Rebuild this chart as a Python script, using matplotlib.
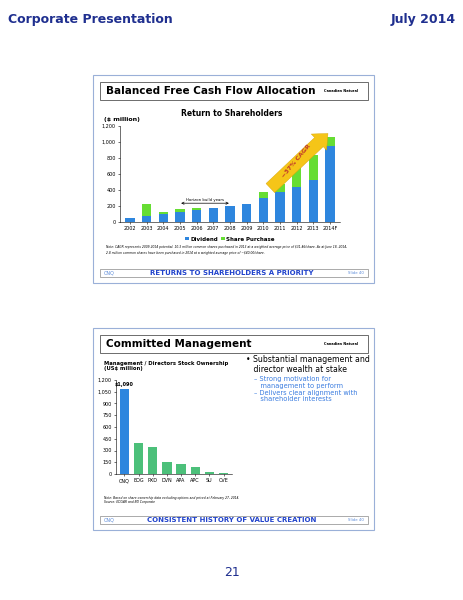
import matplotlib
matplotlib.use("Agg")
import matplotlib.pyplot as plt
from matplotlib.patches import Rectangle
import numpy as np

years = ["2002","2003","2004","2005","2006","2007","2008","2009","2010","2011","2012","2013","2014F"]
dividend = [55,75,95,120,150,175,205,220,300,375,440,520,950]
share_purchase = [0,145,35,45,25,0,0,0,70,105,305,320,110]
companies = ["CNQ","EOG","PXD","DVN","APA","APC","SU","CVE"]
ownership = [1090,390,340,155,130,85,20,10]

W, H = 464, 600
fig = plt.figure(figsize=(4.64, 6), dpi=100)
def fx(x): return x / W
def fy(y): return 1 - y / H
navy = "#1f2f8f"
blue = "#2e86de"
green = "#66dd33"

fig.text(fx(8), fy(20), "Corporate Presentation", color=navy, fontsize=9, fontweight="bold", va="center")
fig.text(fx(456), fy(20), "July 2014", color=navy, fontsize=9, fontweight="bold", va="center", ha="right")
fig.text(fx(232), fy(572), "21", color=navy, fontsize=9, va="center", ha="center")

def slide(top, bottom, title, footer):
    fig.patches.append(Rectangle((fx(93), fy(bottom)), fx(374)-fx(93), fy(top)-fy(bottom),
                                 transform=fig.transFigure, fill=False, ec="#9ab0d8", lw=0.8))
    fig.patches.append(Rectangle((fx(100), fy(top+25)), fx(368)-fx(100), fy(top+7)-fy(top+25),
                                 transform=fig.transFigure, fill=False, ec="#555", lw=0.6))
    fig.text(fx(106), fy(top+16), title, fontsize=7.5, fontweight="bold", va="center")
    fig.text(fx(358), fy(top+16), "Canadian Natural", fontsize=2.5, fontweight="bold", va="center", ha="right")
    fig.patches.append(Rectangle((fx(100), fy(bottom-6)), fx(368)-fx(100), fy(bottom-14)-fy(bottom-6),
                                 transform=fig.transFigure, fill=False, ec="#888", lw=0.5))
    fig.text(fx(104), fy(bottom-10), "CNQ", fontsize=3.5, color="#5b8ad8", va="center")
    fig.text(fx(232), fy(bottom-10), footer, fontsize=5, fontweight="bold", color="#2244cc", va="center", ha="center")
    fig.text(fx(364), fy(bottom-10), "Slide 40", fontsize=2.8, color="#5b8ad8", va="center", ha="right")

slide(75, 283, "Balanced Free Cash Flow Allocation", "RETURNS TO SHAREHOLDERS A PRIORITY")
slide(328, 530, "Committed Management", "CONSISTENT HISTORY OF VALUE CREATION")

# Top chart
ax = fig.add_axes([fx(120), fy(222), fx(340)-fx(120), fy(126)-fy(222)])
x = np.arange(len(years))
ax.bar(x, dividend, 0.55, color=blue, label="Dividend")
ax.bar(x, share_purchase, 0.55, bottom=dividend, color=green, label="Share Purchase")
ax.set_ylim(0, 1200)
ax.set_yticks(range(0, 1201, 200))
ax.set_yticklabels(["0","200","400","600","800","1,000","1,200"])
ax.set_xticks(x); ax.set_xticklabels(years)
ax.tick_params(labelsize=3.5, length=1.5, width=0.4, pad=1.5)
ax.set_xlim(-0.6, len(years)-0.4)
for s in ["top","right"]: ax.spines[s].set_visible(False)
for s in ["left","bottom"]: ax.spines[s].set_linewidth(0.4)
ax.legend(loc="upper center", bbox_to_anchor=(0.5, -0.1), ncol=2, frameon=False,
          handlelength=0.6, handleheight=0.6, columnspacing=0.6, handletextpad=0.3,
          prop={"weight":"bold","size":4})
ax.annotate("", xy=(2.9, 235), xytext=(6.1, 235),
            arrowprops=dict(arrowstyle="<->", lw=0.5, mutation_scale=4))
ax.text(4.5, 250, "Horizon build years", fontsize=2.8, ha="center", va="bottom")
ax.annotate("", xy=(12.0, 1130), xytext=(8.3, 400),
            arrowprops=dict(arrowstyle="simple,head_width=1.6,head_length=0.9,tail_width=0.9",
                            fc="#f5c518", ec="#d9a300", lw=0.3, mutation_scale=10))
ax.text(10.0, 760, "~37% CAGR", fontsize=4.5, fontweight="bold", color="#c0392b",
        rotation=50, ha="center", va="center")
fig.text(fx(232), fy(114), "Return to Shareholders", fontsize=5.5, fontweight="bold", ha="center", va="center")
fig.text(fx(104), fy(119), "($ million)", fontsize=4.5, fontweight="bold", va="center")
fig.text(fx(106), fy(250), "Note: CAGR represents 2009-2014 potential. 10.3 million common shares purchased in 2013 at a weighted average price of $31.46/share. As at June 18, 2014,\n2.8 million common shares have been purchased in 2014 at a weighted average price of ~$40.00/share.",
         fontsize=2.2, style="italic", va="center", linespacing=1.4)

# Bottom chart
ax2 = fig.add_axes([fx(116), fy(474), fx(232)-fx(116), fy(380)-fy(474)])
xc = np.arange(len(companies))
cols = ["#2e86de"] + ["#4cc07a"]*(len(companies)-1)
ax2.bar(xc, ownership, 0.65, color=cols)
ax2.set_ylim(0, 1200)
ax2.set_yticks(range(0, 1201, 150))
ax2.set_yticklabels(["0","150","300","450","600","750","900","1,050","1,200"])
ax2.set_xticks(xc); ax2.set_xticklabels(companies)
ax2.tick_params(labelsize=3.5, length=1.5, width=0.4, pad=1.5)
ax2.set_xlim(-0.6, len(companies)-0.4)
for s in ["top","right"]: ax2.spines[s].set_visible(False)
for s in ["left","bottom"]: ax2.spines[s].set_linewidth(0.4)
ax2.text(0, ownership[0]+20, "$1,090", fontsize=3.5, fontweight="bold", ha="center", va="bottom")
fig.text(fx(104), fy(366), "Management / Directors Stock Ownership\n(US$ million)", fontsize=3.8, fontweight="bold", va="center")
fig.text(fx(104), fy(500), "Note: Based on share ownership data excluding options and priced at February 27, 2014.\nSource: EDGAR and BD Corporate", fontsize=2.2, style="italic", va="center")

fig.text(fx(246), fy(355), "• Substantial management and\n   director wealth at stake", fontsize=5.6, va="top", linespacing=1.1)
fig.text(fx(254), fy(376), "– Strong motivation for\n   management to perform\n– Delivers clear alignment with\n   shareholder interests",
         fontsize=4.8, color="#3b7de0", va="top", linespacing=1.15)

fig.savefig("out.png", dpi=100)
